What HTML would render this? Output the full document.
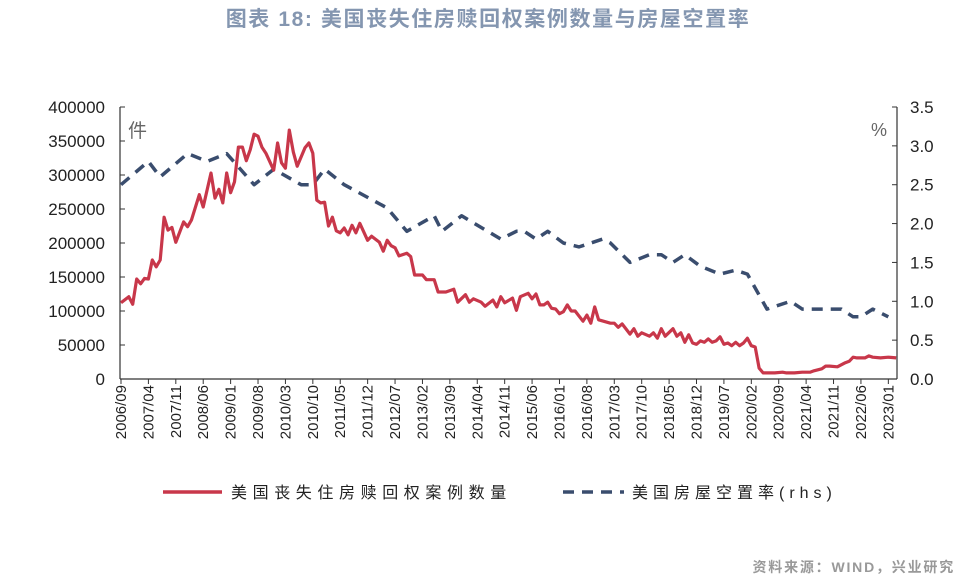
<!DOCTYPE html>
<html><head><meta charset="utf-8">
<style>
html,body{margin:0;padding:0;background:#fff;width:976px;height:579px;overflow:hidden}
svg{display:block;font-family:"Liberation Sans","Noto Sans CJK SC",sans-serif}
</style></head>
<body>
<svg id="chart" width="976" height="579" viewBox="0 0 976 579" xmlns="http://www.w3.org/2000/svg">
<text x="488" y="26" text-anchor="middle" font-size="21" letter-spacing="1.6" font-weight="bold" fill="#8496b0">图表 18: 美国丧失住房赎回权案例数量与房屋空置率</text>
<g id="axes"></g>
<g id="marks"></g>
<text x="128" y="137" font-size="19" fill="#666">件</text>
<text x="871" y="136" font-size="18" fill="#666">%</text>
<g>
<line x1="163" y1="492" x2="222" y2="492" stroke="#c8374a" stroke-width="3.5"/>
<text x="231" y="498" font-size="16" letter-spacing="5.6" fill="#222">美国丧失住房赎回权案例数量</text>
<line x1="563" y1="492" x2="624" y2="492" stroke="#3a4d6e" stroke-width="3.5" stroke-dasharray="11,8"/>
<text x="632" y="498" font-size="16" letter-spacing="5" fill="#222">美国房屋空置率(rhs)</text>
</g>
<text x="955" y="572" text-anchor="end" font-size="14" letter-spacing="1.8" font-weight="bold" fill="#999">资料来源：WIND，兴业研究</text>
</svg>
<script>
const xTickLabels = ["2006/09","2007/04","2007/11","2008/06","2009/01","2009/08","2010/03","2010/10","2011/05","2011/12","2012/07","2013/02","2013/09","2014/04","2014/11","2015/06","2016/01","2016/08","2017/03","2017/10","2018/05","2018/12","2019/07","2020/02","2020/09","2021/04","2021/11","2022/06","2023/01"];
const leftTicks = [0,50000,100000,150000,200000,250000,300000,350000,400000];
const rightTicks = [0.0,0.5,1.0,1.5,2.0,2.5,3.0,3.5];
const fcMonths = [0,2,3,4,5,6,7,8,9,10,11,12,13,14,16,17,18,20,21,23,24,25,26,27,28,29,30,31,32,33,34,35,36,37,39,40,41,42,43,44,45,47,48,49,50,51,52,53,54,55,56,57,58,59,60,61,63,64,66,67,68,69,70,71,73,74,75,77,78,80,81,83,85,86,88,89,90,92,93,95,96,97,98,100,101,102,104,105,106,107,108,109,110,111,112,113,114,115,116,118,119,120,121,122,125,126,127,128,130,131,132,133,135,136,137,138,139,141,142,143,144,145,146,147,148,149,150,151,152,153,154,155,156,157,158,159,160,161,162,163,164,165,167,169,170,172,174,176,177,179,180,181,183,185,186,187,188,190,191,192,194,196,198];
const fcValues = [112000,121000,110000,147000,140000,148000,147000,175000,165000,175000,238000,219000,223000,201000,231000,224000,234000,271000,253000,303000,266000,279000,259000,303000,274000,290000,341000,341000,321000,337000,360000,357000,341000,332000,307000,347000,318000,310000,366000,334000,313000,340000,347000,332000,263000,259000,260000,225000,238000,218000,215000,222000,212000,226000,215000,229000,204000,210000,201000,188000,204000,196000,193000,181000,185000,180000,153000,153000,146000,146000,128000,128000,132000,113000,124000,113000,118000,113000,107000,116000,106000,121000,112000,119000,101000,121000,126000,118000,125000,109000,109000,113000,104000,103000,96000,99000,109000,100000,100000,85000,94000,82000,106000,87000,82000,82000,76000,81000,66000,74000,63000,68000,63000,68000,60000,74000,63000,74000,63000,68000,54000,65000,53000,51000,56000,54000,59000,54000,56000,62000,51000,53000,49000,54000,49000,53000,60000,49000,47000,16000,9000,9000,9000,10000,9000,9000,10000,10000,12000,15000,19000,19000,18000,24000,26000,32000,31000,31000,34000,32000,31000,32000,31000];
const vacMonths = [0,7,10,17,22,27,34,39,46,49,52,57,68,73,80,82,87,97,101,103,106,109,113,117,123,125,130,135,138,141,144,148,153,157,160,165,171,174,184,187,189,192,196];
const vacValues = [2.5,2.8,2.6,2.9,2.8,2.9,2.5,2.7,2.5,2.5,2.7,2.5,2.2,1.9,2.1,1.9,2.1,1.8,1.9,1.9,1.8,1.9,1.75,1.7,1.8,1.75,1.5,1.6,1.6,1.5,1.6,1.45,1.35,1.4,1.35,0.9,1.0,0.9,0.9,0.8,0.8,0.9,0.8];

const NS="http://www.w3.org/2000/svg";
const X0=121, MW=3.915, YB=379, YT=107, XR=897;
const xOf = m => X0 + m*MW;
const yL = v => YB - v/400000*(YB-YT);
const yR = v => YB - v/3.5*(YB-YT);
function mk(tag, attrs, parent){const e=document.createElementNS(NS,tag);for(const k in attrs)e.setAttribute(k,attrs[k]);parent.appendChild(e);return e;}
const axes=document.getElementById('axes'), marks=document.getElementById('marks');

let ax=mk('line',{x1:X0-1,y1:YT,x2:X0-1,y2:YB,stroke:'#333','stroke-width':1.2},axes);


ax=mk('line',{x1:XR,y1:YT,x2:XR,y2:YB,stroke:'#333','stroke-width':1.2},axes);


ax=mk('line',{x1:X0-1,y1:YB,x2:XR,y2:YB,stroke:'#333','stroke-width':1.2},axes);



leftTicks.forEach(v=>{
  const y=yL(v);
  mk('line',{x1:X0-1,y1:y,x2:X0+4,y2:y,stroke:'#333','stroke-width':1},axes);
  const t=mk('text',{x:105,y:y+6,'text-anchor':'end','font-size':17,fill:'#222'},axes);
  t.textContent=v;
  
  
});
rightTicks.forEach(v=>{
  const y=yR(v);
  mk('line',{x1:XR-5,y1:y,x2:XR,y2:y,stroke:'#333','stroke-width':1},axes);
  const t=mk('text',{x:910,y:y+6,'font-size':17,fill:'#222'},axes);
  t.textContent=v.toFixed(1);
  
  
});
xTickLabels.forEach((lab,i)=>{
  const x=xOf(i*7);
  mk('line',{x1:x,y1:YB,x2:x,y2:YB+5,stroke:'#333','stroke-width':1},axes);
  const t=mk('text',{x:0,y:0,'text-anchor':'end','font-size':15,fill:'#222',transform:`translate(${x+5},385) rotate(-90)`},axes);
  t.textContent=lab;
  
  
});

const vpts=vacMonths.map((m,i)=>xOf(m).toFixed(1)+','+yR(vacValues[i]).toFixed(1)).join(' ');
const vl=mk('polyline',{points:vpts,fill:'none',stroke:'#3a4d6e','stroke-width':3.5,'stroke-dasharray':'11,8','stroke-linejoin':'round'},marks);



const fpts=fcMonths.map((m,i)=>xOf(m).toFixed(1)+','+yL(fcValues[i]).toFixed(1)).join(' ');
const fl=mk('polyline',{points:fpts,fill:'none',stroke:'#c8374a','stroke-width':3.2,'stroke-linejoin':'round'},marks);


</script>
</body></html>
